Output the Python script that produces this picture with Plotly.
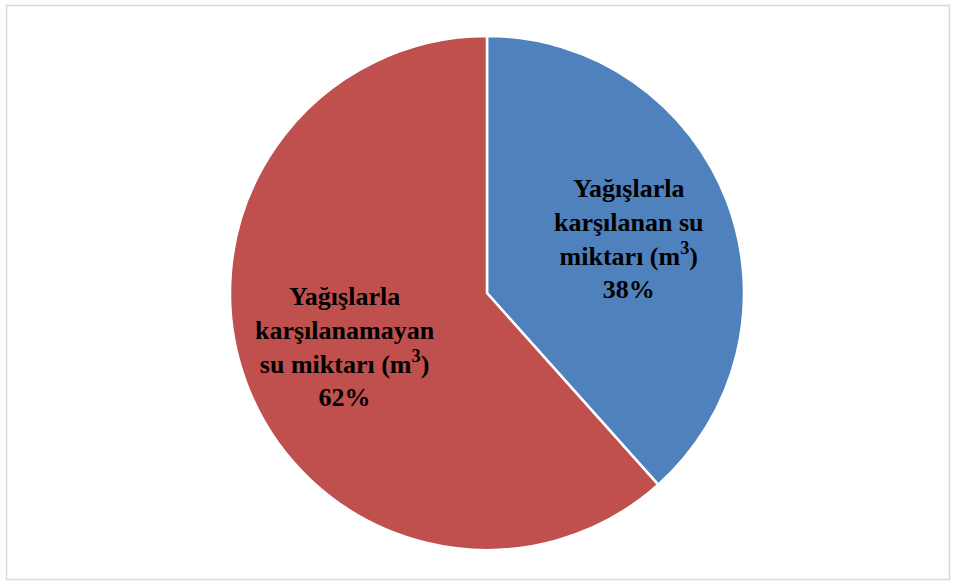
import math
import plotly.graph_objects as go

labels = ["Yağışlarla<br>karşılanan su<br>miktarı (m<sup>3</sup>)",
          "Yağışlarla<br>karşılanamayan<br>su miktarı (m<sup>3</sup>)"]
values = [38.4, 61.6]
colors = ["#4F81BD", "#C0504D"]

W, H = 955, 581
dom_x = [230 / W, 744 / W]
dom_y = [1 - 550 / H, 1 - 36 / H]

fig = go.Figure(go.Pie(
    labels=labels, values=values, sort=False, direction="clockwise", rotation=0,
    marker=dict(colors=colors, line=dict(color="white", width=2.5)),
    textinfo="none", showlegend=False, hoverinfo="label+percent",
    domain=dict(x=dom_x, y=dom_y),
))

# data labels placed at each slice's mid-angle (clockwise from 12 o'clock)
cx_px = (dom_x[0] + dom_x[1]) / 2 * W
cy_px = (1 - (dom_y[0] + dom_y[1]) / 2) * H
R = min((dom_x[1] - dom_x[0]) * W, (dom_y[1] - dom_y[0]) * H) / 2
total = sum(values)
annotations = []
cum = 0
for lab, v in zip(labels, values):
    mid = (cum + v / 2) / total * 2 * math.pi
    cum += v
    r = 0.59 * R
    x_px = cx_px + r * math.sin(mid)
    y_px = cy_px - r * math.cos(mid)
    annotations.append(dict(
        x=x_px / W, y=1 - y_px / H, xref="paper", yref="paper",
        text=f"{lab}<br>{round(v / total * 100)}%", showarrow=False,
        xanchor="center", yanchor="middle", align="center",
        font=dict(family="Liberation Serif", size=26, color="black", weight="bold"),
    ))

fig.update_layout(
    width=W, height=H, margin=dict(l=0, r=0, t=0, b=0),
    paper_bgcolor="white", plot_bgcolor="white",
    annotations=annotations,
    shapes=[dict(type="rect", xref="paper", yref="paper",
                 x0=6.5 / W, x1=949.5 / W, y0=1 - 579.5 / H, y1=1 - 5.5 / H,
                 line=dict(color="#D9D9D9", width=1.5))],
)
fig.write_html("out.html", config={"displayModeBar": False},
               post_script="document.body.style.margin='0';document.body.style.overflow='hidden';")
